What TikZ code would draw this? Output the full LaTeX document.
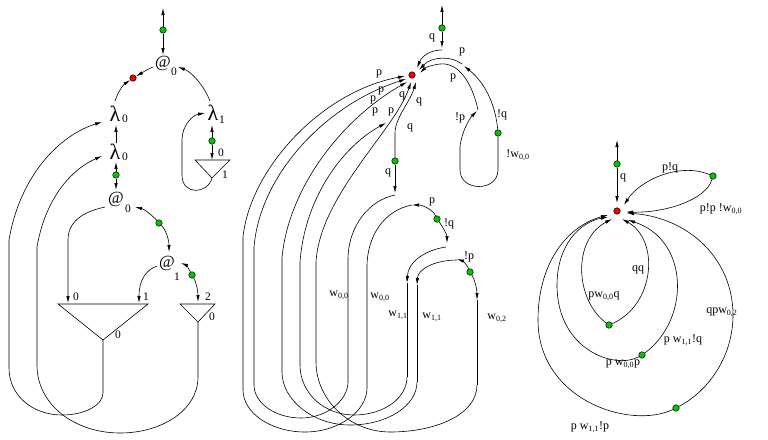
\documentclass[tikz,border=0pt]{standalone}
\usepackage{fontspec}
\setmainfont{Liberation Serif}
\usetikzlibrary{arrows.meta}
\definecolor{dgreen}{RGB}{0,200,0}
\definecolor{dred}{RGB}{240,0,0}
\begin{document}
\begin{tikzpicture}[x=1pt,y=-1pt,line width=0.6pt,
  ar/.style={-{Latex[length=7pt,width=3.4pt]}},
  gdot/.style={circle,draw,fill=dgreen,inner sep=0,minimum size=6.5pt,line width=0.5pt},
  rdot/.style={circle,draw,fill=dred,inner sep=0,minimum size=6.5pt,line width=0.5pt},
  big/.style={font=\fontsize{17}{17}\selectfont,inner sep=0},
  lam/.style={font=\fontsize{22}{22}\selectfont,inner sep=0},
  sub/.style={font=\fontsize{11.5}{11.5}\selectfont,inner sep=0},
  lbl/.style={font=\fontsize{12}{12}\selectfont,inner sep=0},
]
\useasboundingbox (0,0) rectangle (768,439);

%%%%%%%%%%%%%%%% LEFT %%%%%%%%%%%%%%%%
\node[big] (at0) at (163,63) {@};
\node[sub] (at0s) at (174,72) {0};
\node[lam] (l0a) at (115,114) {λ};
\node[sub] (l0as) at (125,119) {0};
\node[lam] (l0b) at (115,152) {λ};
\node[sub] (l0bs) at (125,157) {0};
\node[lam] (l1) at (213,113) {λ};
\node[sub] (l1s) at (222,120) {1};
\node[big] (at0b) at (116,199) {@};
\node[sub] (at0bs) at (128,209) {0};
\node[big] (at1) at (167,263) {@};
\node[sub] (at1s) at (177,277) {1};

\node[gdot] (g1) at (163,30) {};
\node[rdot] (r1) at (133,78) {};
\node[gdot] (g2) at (212,141) {};
\node[gdot] (g3) at (116,175) {};
\node[gdot] (g4) at (159,223) {};
\node[gdot] (g5) at (192,275) {};

\coordinate (t1) at (163,8);
\draw[ar] (g1) -- (t1);
\draw[ar] (g1) -- (163,55);
\draw[ar] (153,67) .. controls (146,70) and (140,74) .. (r1);
\draw[ar] (115,101) .. controls (118,92) and (123,85) .. (r1);
\draw[ar] (210,101) .. controls (204,86) and (192,72) .. (178,67);

% small triangle 1
\draw (195,160) -- (230,160) -- (212,178) -- cycle;
\node[sub] at (221,153) {0};
\node[sub] at (225,175) {1};
\draw[ar] (g2) -- (212,125);
\draw[ar] (g2) -- (212,160);
\draw[ar] (212,178) .. controls (208,194) and (182,196) .. (182,175) -- (182,140)
   .. controls (182,125) and (193,115) .. (205,113);

\draw[ar] (116,143) -- (116,125);
\draw[ar] (g3) -- (116,162);
\draw[ar] (g3) -- (116,190);

% big triangle
\draw (58,304) -- (148,304) -- (103,340) -- cycle;
\node[sub] at (76,297) {0};
\node[sub] at (146,297) {1};
\node[sub] at (118,335) {0};
% small triangle 2
\draw (180,304) -- (215,304) -- (198,322) -- cycle;
\node[sub] at (208,297) {2};
\node[sub] at (212,317) {0};

\draw[ar] (103,340) -- (103,393) .. controls (103,405) and (85,415) .. (62,415)
   .. controls (32,415) and (9,395) .. (9,368) -- (9,240)
   .. controls (20,175) and (60,135) .. (102,122);
\draw[ar] (198,322) -- (198,377) .. controls (198,410) and (162,433) .. (120,433)
   .. controls (75,433) and (37,405) .. (37,365) -- (37,247)
   .. controls (45,200) and (70,170) .. (102,156);

\draw[ar] (105,207) .. controls (82,212) and (68,222) .. (68,240) -- (68,303);
\draw[ar] (157,266) .. controls (146,270) and (139,280) .. (139,303);
\draw[ar] (g4) .. controls (152,215) and (144,209) .. (135,207);
\draw[ar] (g4) .. controls (166,230) and (169,240) .. (169,252);
\draw[ar] (g5) .. controls (189,269) and (186,265) .. (181,263);
\draw[ar] (g5) .. controls (196,282) and (198,290) .. (198,302);

%%%%%%%%%%%%%%%% MIDDLE %%%%%%%%%%%%%%%%
\node[rdot] (R) at (412,75) {};
\node[gdot] (m0) at (442,28) {};
\node[gdot] (m1) at (498,133) {};
\node[gdot] (m2) at (395,161) {};
\node[gdot] (m3) at (437,219) {};
\node[gdot] (m4) at (470,272) {};

\draw[ar] (m0) -- (442,5);
\draw[ar] (m0) -- (442,48);
\node[lbl] at (432,38) {q};
\draw[ar] (442,50) .. controls (430,50) and (422,56) .. (417,68);

% right loop
\draw[ar] (m1) .. controls (496,110) and (488,85) .. (464,66);
\draw[ar] (462,64) .. controls (452,56) and (432,56) .. (419,70);
\draw[ar] (478,110) .. controls (472,82) and (458,62) .. (440,64)
   .. controls (432,65) and (426,67) .. (420,73);
\draw[ar] (460,147) .. controls (462,130) and (470,118) .. (477,111);
\draw (460,147) -- (460,170) .. controls (460,192) and (498,192) .. (498,170) -- (m1);
\node[lbl] at (462,52) {p};
\node[lbl] at (453,78) {p};
\node[lbl] at (460,118) {!p};
\node[lbl] at (502,115) {!q};
\node[lbl] at (518,155) {!w\textsubscript{0,0}};

% long arcs on the left
\draw[ar] (243,390) -- (243,237) .. controls (250,170) and (320,92) .. (405,76);
\draw[ar] (254,385) -- (254,247) .. controls (260,175) and (325,105) .. (406,79);
\draw[ar] (282,372) -- (282,258) .. controls (288,190) and (340,120) .. (407,82);
\draw[ar] (300,365) -- (300,262) .. controls (305,195) and (345,145) .. (386,123);
\draw[ar] (316,362) -- (316,262) .. controls (320,195) and (395,130) .. (411,82);
\node[lbl] at (379,74) {p};
\node[lbl] at (381,91) {p};
\node[lbl] at (373,100) {p};
\node[lbl] at (375,112) {p};
\node[lbl] at (391,112) {p};
\node[lbl] at (402,96) {q};
\node[lbl] at (419,102) {q};

% green dot below R
\draw[ar] (m2) -- (395,133) .. controls (395,118) and (410,102) .. (416,82);
\node[lbl] at (410,128) {q};
\draw[ar] (m2) -- (395,193);
\node[lbl] at (388,173) {q};

% right verticals
\draw (395,195) .. controls (370,200) and (348,225) .. (348,260) -- (348,382);
\draw (412,205) .. controls (385,210) and (367,235) .. (367,267) -- (367,388);
\draw[ar] (m3) .. controls (433,210) and (423,205) .. (412,205);
\draw[ar] (m3) .. controls (443,227) and (447,235) .. (447,243);
\node[lbl] at (432,202) {p};
\node[lbl] at (449,224) {!q};
\draw[ar] (446,247) .. controls (425,250) and (408,262) .. (407,283);
\draw (407,283) -- (407,377);
\draw[ar] (m4) .. controls (467,265) and (463,261) .. (457,259);
\draw[ar] (m4) .. controls (475,280) and (477,290) .. (477,300);
\node[lbl] at (469,257) {!p};
\draw[ar] (457,260) .. controls (437,260) and (418,268) .. (417,285);
\draw (417,285) -- (417,382);
\draw (477,300) -- (477,385);
\node[lbl] at (339,295) {w\textsubscript{0,0}};
\node[lbl] at (380,297) {w\textsubscript{0,0}};
\node[lbl] at (398,315) {w\textsubscript{1,1}};
\node[lbl] at (432,317) {w\textsubscript{1,1}};
\node[lbl] at (497,318) {w\textsubscript{0,2}};

% bottom U-turns
\draw (243,390) .. controls (243,413) and (271,432) .. (305,432) .. controls (339,432) and (367,411) .. (367,388);
\draw (254,385) .. controls (254,403) and (275,418) .. (301,418) .. controls (327,418) and (348,400) .. (348,382);
\draw (282,372) .. controls (282,400) and (313,425) .. (350,425) .. controls (387,425) and (417,406) .. (417,382);
\draw (300,365) .. controls (300,393) and (324,415) .. (354,415) .. controls (384,415) and (407,398) .. (407,377);
\draw (316,362) .. controls (316,400) and (350,432) .. (390,432) .. controls (435,432) and (477,415) .. (477,385);

%%%%%%%%%%%%%%%% RIGHT %%%%%%%%%%%%%%%%
\node[rdot] (R2) at (617,211) {};
\node[gdot] (n0) at (617,164) {};
\node[gdot] (n1) at (713,176) {};
\node[gdot] (n2) at (609,325) {};
\node[gdot] (n3) at (642,355) {};
\node[gdot] (n4) at (676,408) {};

\draw[ar] (n0) -- (617,140);
\draw[ar] (n0) -- (617,203);
\node[lbl] at (623,178) {q};

\draw[ar] (n1) .. controls (680,162) and (640,180) .. (624,205);
\draw[ar] (n1) .. controls (706,200) and (665,213) .. (626,212);
\node[lbl] at (670,168) {p!q};
\node[lbl] at (721,209) {p!p !w\textsubscript{0,0}};

\draw[ar] (n2) .. controls (575,300) and (572,240) .. (612,219);
\draw[ar] (n2) .. controls (655,305) and (660,240) .. (622,219);
\node[lbl] at (638,270) {qq};
\node[lbl] at (604,296) {pw\textsubscript{0,0}q};

\draw[ar] (n3) .. controls (615,370) and (557,350) .. (557,285) .. controls (557,245) and (580,222) .. (608,217);
\draw[ar] (n3) .. controls (690,320) and (690,240) .. (628,220);
\node[lbl] at (683,340) {p w\textsubscript{1,1}!q};
\node[lbl] at (623,364) {p w\textsubscript{0,0}p};

\draw[ar] (n4) .. controls (630,430) and (538,400) .. (538,320) .. controls (538,260) and (570,225) .. (608,215);
\draw[ar] (n4) .. controls (710,390) and (733,355) .. (733,315) .. controls (733,260) and (690,218) .. (627,213);
\node[lbl,anchor=west] at (706,312) {qpw\textsubscript{0,2}};
\node[lbl] at (590,427) {p w\textsubscript{1,1}!p};
\end{tikzpicture}
\end{document}
